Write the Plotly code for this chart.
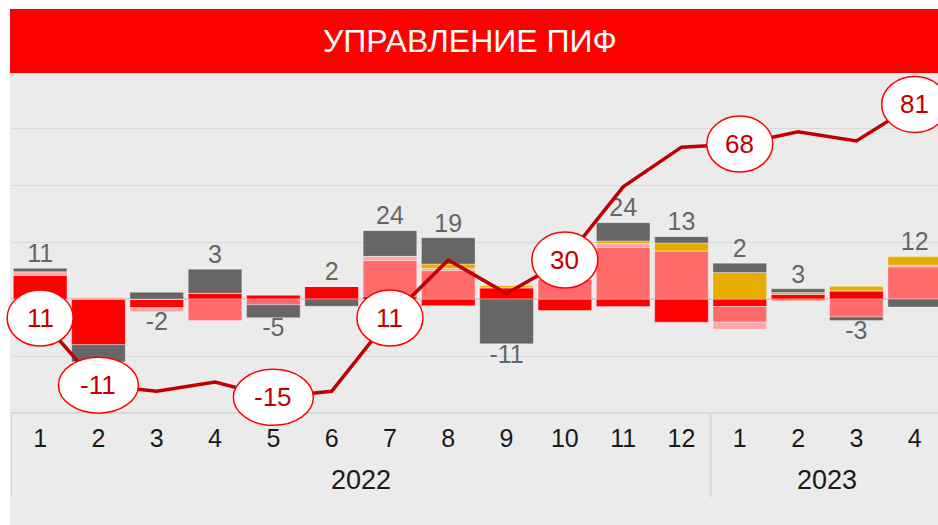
import plotly.graph_objects as go

# categories
years = ["2022"] * 12 + ["2023"] * 4
months = ["1", "2", "3", "4", "5", "6", "7", "8", "9", "10", "11", "12", "1", "2", "3", "4"]

# stacked components
red = [8.4, -16, -3.0, 2, 1.5, 4.5, 1, -2.3, 4, -4, -2.6, -8.1, -2.6, 1.7, 2.9, 0]
salmon = [0, 0, 0, -7.5, -2, 0, 12.5, 10, 0, 7, 18.1, 16.9, -5.5, -0.6, -6.3, 11.3]
pink = [1.2, 0.7, -1.4, 0, 0, 0, 1.5, 0.8, 0, 0, 1.4, 0, -2.5, 0, 0, 0.6]
gold = [0, 0, 0, 0, 0, 0, 0, 1.5, 0.7, 0, 0.9, 2.8, 9.3, 0.6, 1.6, 3]
gray = [1.2, -6, 2.4, 8.5, -4.5, -2.5, 9, 9.2, -15.7, 0, 6.4, 2.2, 3.3, 1.3, -1.2, -2.8]

# bar totals shown as labels
totals = [11, -22, -2, 3, -5, 2, 24, 19, -11, 11, 24, 13, 2, 3, -3, 12]

# cumulative line
cumulative = [11, -11, -13, -10, -15, -13, 11, 30, 19, 30, 54, 67, 68, 72, 69, 81]
cumulative_labels = [11, -11, None, None, -15, None, 11, None, None, 30, None, None, 68, None, None, 81]

series = [
    ("red", red, "#FF0000"),
    ("salmon", salmon, "#FF6B6B"),
    ("pink", pink, "#FFA6A6"),
    ("gold", gold, "#E6AC00"),
    ("gray", gray, "#666666"),
]

idx = list(range(len(months)))
x_range = [-0.5, 15.4]
y_range = [-39.6, 79.3]
y2_range = [-19.8, 91.3]

fig = go.Figure()
for name, vals, color in series:
    fig.add_trace(go.Bar(x=idx, y=vals, name=name, marker_color=color,
                         marker_line=dict(color="rgba(255,255,255,0.35)", width=1)))

# value labels above / below each stack
pos_sum = [sum(v for v in col if v > 0) for col in zip(*[s[1] for s in series])]
neg_sum = [sum(v for v in col if v < 0) for col in zip(*[s[1] for s in series])]
label_y = [p if t >= 0 else n for p, n, t in zip(pos_sum, neg_sum, totals)]
fig.add_trace(go.Scatter(
    x=idx, y=label_y, mode="text", text=[str(t) for t in totals],
    textposition=["top center" if t >= 0 else "bottom center" for t in totals],
    textfont=dict(size=25, color="#666666"), hoverinfo="skip"))

fig.add_trace(go.Scatter(x=idx, y=cumulative, yaxis="y2", mode="lines",
                         line=dict(color="#C00000", width=3.5)))

# ellipse callouts (paper-anchored so they are not clipped at the plot edges)
for i, v in zip(idx, cumulative_labels):
    if v is None:
        continue
    w = 66 if len(str(v)) <= 2 else 80
    px = (i - x_range[0]) / (x_range[1] - x_range[0])
    py = (v - y2_range[0]) / (y2_range[1] - y2_range[0])
    fig.add_shape(type="circle", xref="paper", yref="paper", xsizemode="pixel", ysizemode="pixel",
                  xanchor=px, yanchor=py, x0=-w / 2, x1=w / 2, y0=-28, y1=28,
                  fillcolor="white", line=dict(color="#FF0000", width=1.5))
    fig.add_annotation(x=i, y=v, xref="x", yref="y2", text=str(v), showarrow=False,
                       font=dict(size=26, color="#C00000"))

# year labels and group dividers
groups = []
for i, y in enumerate(years):
    if not groups or groups[-1][0] != y:
        groups.append([y, i, i])
    else:
        groups[-1][2] = i
for y, first, last in groups:
    fig.add_annotation(xref="x", yref="paper", x=(first + last) / 2, y=-68 / 339, yanchor="middle",
                       text=y, showarrow=False, font=dict(size=27, color="#1A1A1A"))
    fig.add_shape(type="line", xref="x", yref="paper", x0=first - 0.5, x1=first - 0.5,
                  y0=0, y1=-85 / 339, line=dict(color="#D9D9D9", width=2))

# background + title banner
fig.add_shape(type="rect", xref="paper", yref="paper", x0=-1 / 927, x1=1.01, y0=-113 / 339, y1=1,
              fillcolor="#EBEBEB", line_width=0, layer="below")
fig.add_shape(type="rect", xref="paper", yref="paper", x0=-1 / 927, x1=1.01, y0=1, y1=1 + 64 / 339,
              fillcolor="#FF0000", line_width=0)
fig.add_annotation(xref="paper", yref="paper", x=(470 - 11) / 927, y=1 + 32 / 339,
                   text="УПРАВЛЕНИЕ ПИФ", showarrow=False, yanchor="middle",
                   font=dict(size=32, color="white"))

fig.update_layout(
    width=938, height=525,
    margin=dict(l=11, r=0, t=73, b=113),
    barmode="relative", bargap=0.08, showlegend=False,
    paper_bgcolor="white", plot_bgcolor="#EBEBEB",
    font=dict(family="Liberation Sans, Arial, sans-serif"),
    xaxis=dict(range=x_range, tickmode="array", tickvals=idx, ticktext=months,
               showline=True, linecolor="#D9D9D9", linewidth=2, ticks="", ticklabelstandoff=3,
               tickfont=dict(size=25, color="#1A1A1A"), showgrid=False, zeroline=False),
    yaxis=dict(range=y_range, dtick=20, showticklabels=False, gridcolor="#D9D9D9",
               zerolinecolor="#D0D0D0", zerolinewidth=2),
    yaxis2=dict(overlaying="y", range=y2_range, visible=False),
)

fig.write_html("out.html", config={"displayModeBar": False},
               post_script="document.body.style.margin='0';")
